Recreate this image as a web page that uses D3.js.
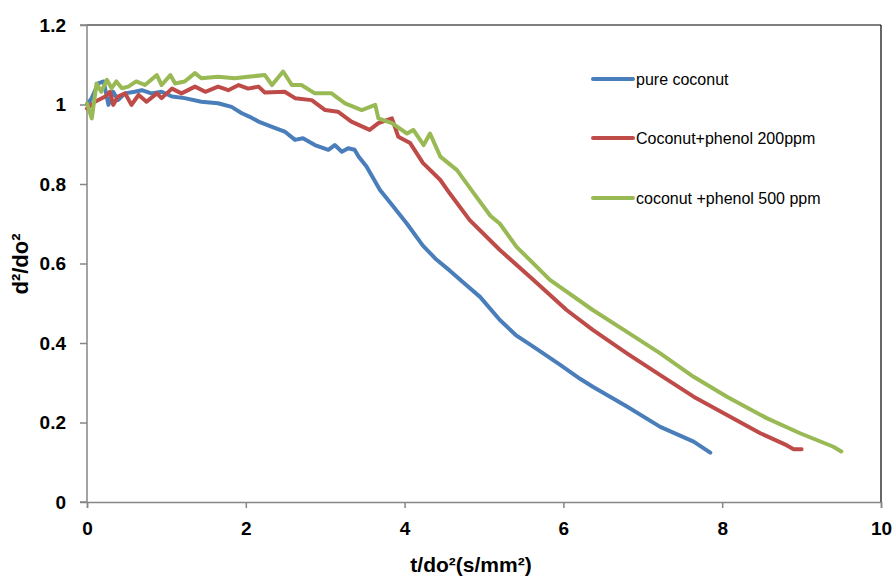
<!DOCTYPE html>
<html>
<head>
<meta charset="utf-8">
<script src="https://cdn.jsdelivr.net/npm/d3@7"></script>
<style>
  body { margin: 0; background: #fff; }
  svg text { font-family: "Liberation Sans", Arial, sans-serif; }
</style>
</head>
<body>
<svg id="chart"></svg>
<script>
// Series data: [t/do², d²/do²]
const pureCoconut = [[0,1.0],[0.06,1.016],[0.14,1.053],[0.21,1.058],[0.27,0.999],[0.33,1.032],[0.39,1.011],[0.48,1.028],[0.6,1.032],[0.69,1.036],[0.81,1.028],[0.94,1.032],[1.07,1.02],[1.23,1.016],[1.44,1.007],[1.65,1.003],[1.82,0.994],[1.95,0.978],[2.05,0.969],[2.16,0.957],[2.33,0.944],[2.49,0.932],[2.62,0.911],[2.72,0.915],[2.87,0.898],[3.04,0.886],[3.12,0.898],[3.21,0.881],[3.29,0.89],[3.37,0.886],[3.42,0.869],[3.52,0.844],[3.69,0.785],[3.85,0.745],[4.03,0.70],[4.23,0.645],[4.4,0.61],[4.57,0.582],[4.78,0.545],[4.95,0.516],[5.2,0.458],[5.4,0.42],[5.62,0.391],[5.96,0.345],[6.21,0.31],[6.37,0.29],[6.8,0.24],[7.22,0.189],[7.64,0.152],[7.85,0.124]];

const phenol200 = [[0,0.99],[0.1,1.007],[0.23,1.02],[0.29,1.032],[0.33,0.999],[0.39,1.02],[0.48,1.028],[0.56,0.999],[0.65,1.024],[0.75,1.007],[0.88,1.028],[0.94,1.016],[1.07,1.04],[1.19,1.028],[1.36,1.045],[1.49,1.032],[1.65,1.045],[1.78,1.036],[1.91,1.049],[2.03,1.04],[2.16,1.045],[2.24,1.03],[2.49,1.032],[2.62,1.016],[2.83,1.011],[3.0,0.986],[3.16,0.982],[3.33,0.957],[3.56,0.936],[3.67,0.953],[3.84,0.965],[3.92,0.919],[4.07,0.903],[4.23,0.853],[4.45,0.81],[4.57,0.776],[4.82,0.709],[5.2,0.634],[5.62,0.559],[6.04,0.483],[6.37,0.433],[6.8,0.374],[7.22,0.319],[7.64,0.265],[8.06,0.219],[8.48,0.173],[8.81,0.143],[8.9,0.133],[9.0,0.133]];

const phenol500 = [[0,1.003],[0.06,0.965],[0.12,1.053],[0.18,1.032],[0.25,1.062],[0.31,1.041],[0.37,1.058],[0.44,1.041],[0.52,1.045],[0.62,1.058],[0.73,1.049],[0.88,1.074],[0.94,1.049],[1.05,1.074],[1.11,1.053],[1.23,1.058],[1.36,1.079],[1.44,1.066],[1.65,1.07],[1.86,1.066],[2.03,1.07],[2.24,1.074],[2.33,1.049],[2.47,1.083],[2.58,1.049],[2.7,1.049],[2.87,1.028],[3.08,1.028],[3.25,1.003],[3.46,0.986],[3.63,0.999],[3.67,0.965],[3.84,0.953],[4.03,0.927],[4.11,0.936],[4.24,0.898],[4.32,0.927],[4.45,0.869],[4.66,0.835],[4.87,0.777],[5.08,0.72],[5.2,0.70],[5.41,0.642],[5.83,0.559],[6.37,0.483],[6.8,0.428],[7.22,0.374],[7.64,0.315],[8.06,0.265],[8.56,0.211],[8.98,0.173],[9.4,0.139],[9.5,0.127]];

const seriesNames = ["pure coconut", "Coconut+phenol 200ppm", "coconut +phenol 500 ppm"];
const seriesColors = ["#4A7EBB", "#BE4B48", "#98B954"];
const xTicks = [0, 2, 4, 6, 8, 10];
const yTicks = [0, 0.2, 0.4, 0.6, 0.8, 1, 1.2];

(() => {
    const width = 896;
    const height = 579;
    const left = 87, right = 881, top = 25, bottom = 502;

    const svg = d3.select("#chart")
        .attr("width", width)
        .attr("height", height);

    const x = d3.scaleLinear().domain([0, 10]).range([left, right]);
    const y = d3.scaleLinear().domain([0, 1.2]).range([bottom, top]);

    // Plot area border (top and right are dark)
    svg.append("line").attr("x1", left).attr("x2", right).attr("y1", top).attr("y2", top)
        .attr("stroke", "#000").attr("stroke-width", 1.2);
    svg.append("line").attr("x1", right).attr("x2", right).attr("y1", top).attr("y2", bottom)
        .attr("stroke", "#000").attr("stroke-width", 1.2);

    // Axes
    const xAxis = svg.append("g")
        .attr("transform", `translate(0,${bottom})`)
        .call(d3.axisBottom(x).tickValues(xTicks).tickSize(6).tickPadding(14).tickFormat(d3.format("d")));
    const yAxis = svg.append("g")
        .attr("transform", `translate(${left},0)`)
        .call(d3.axisLeft(y).tickValues(yTicks).tickSize(7).tickPadding(14).tickFormat(d => d === 0 || d === 1 ? d3.format("d")(d) : d3.format(".1f")(d)));

    [xAxis, yAxis].forEach(a => {
        a.select(".domain").attr("stroke", "#868686").attr("stroke-width", 1.5);
        a.selectAll(".tick line").attr("stroke", "#868686").attr("stroke-width", 1.5);
        a.selectAll(".tick text")
            .attr("fill", "#000")
            .style("font-size", "19px")
            .style("font-weight", "bold")
            .style("font-family", "'Liberation Sans', Arial, sans-serif");
    });
    yAxis.select(".domain").attr("d", `M-7,${top}H0V${bottom}H-7`);

    // Axis titles
    svg.append("text")
        .attr("x", 471).attr("y", 572)
        .attr("text-anchor", "middle")
        .style("font-size", "21px").style("font-weight", "bold")
        .text("t/do²(s/mm²)");
    svg.append("text")
        .attr("transform", "translate(28,264) rotate(-90)")
        .attr("text-anchor", "middle")
        .style("font-size", "22px").style("font-weight", "bold")
        .text("d²/do²");

    // Lines
    const line = d3.line().x(d => x(d[0])).y(d => y(d[1]));
    [pureCoconut, phenol200, phenol500].forEach((data, i) => {
        svg.append("path")
            .datum(data)
            .attr("d", line)
            .attr("fill", "none")
            .attr("stroke", seriesColors[i])
            .attr("stroke-width", 4)
            .attr("stroke-linejoin", "round")
            .attr("stroke-linecap", "round");
    });

    // Legend
    const legendY = [79, 138, 198];
    seriesNames.forEach((name, i) => {
        svg.append("line")
            .attr("x1", 593).attr("x2", 633)
            .attr("y1", legendY[i]).attr("y2", legendY[i])
            .attr("stroke", seriesColors[i]).attr("stroke-width", 4).attr("stroke-linecap", "round");
        svg.append("text")
            .attr("x", 636).attr("y", legendY[i] + 6)
            .style("font-size", "16px")
            .text(name);
    });
})();
</script>
</body>
</html>
